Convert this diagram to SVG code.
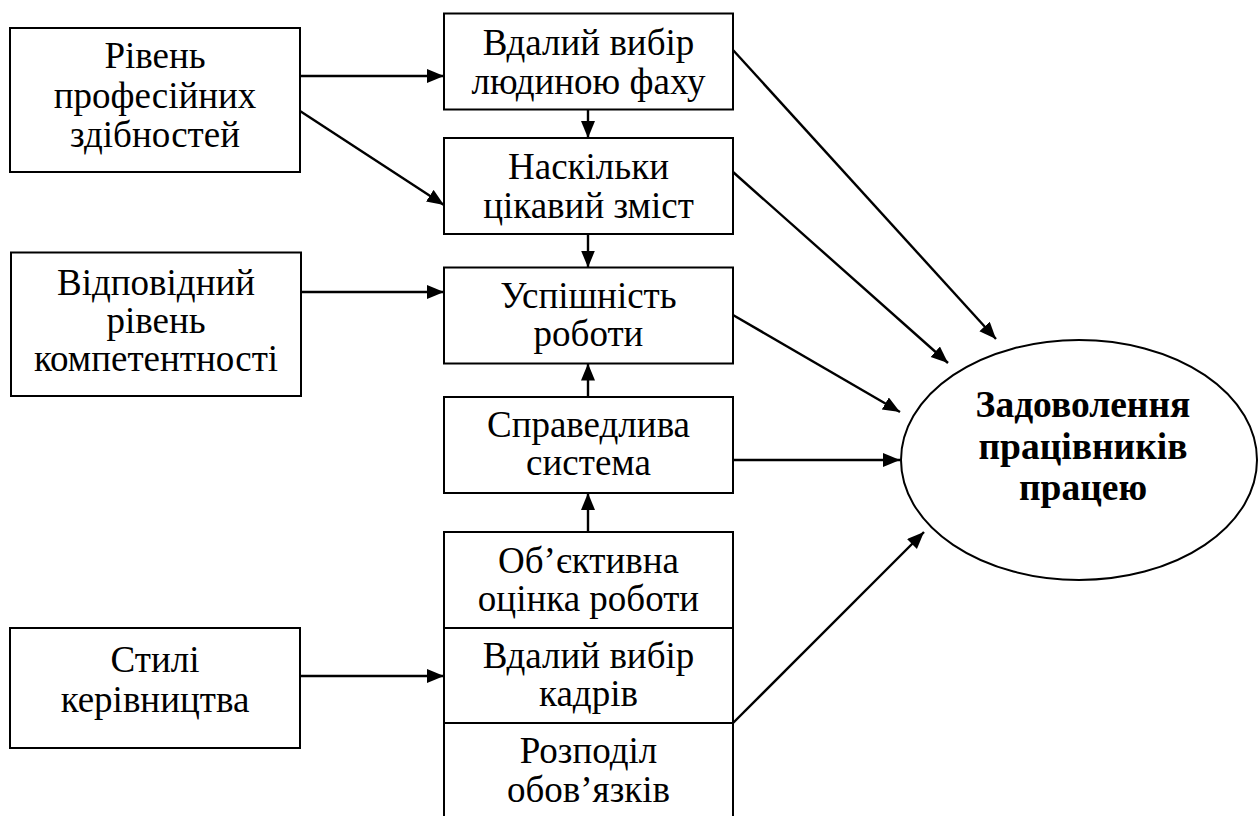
<svg xmlns="http://www.w3.org/2000/svg" width="1258" height="816" viewBox="0 0 1258 816">
<style>
.box{fill:#fff;stroke:#000;stroke-width:2}
.t{font-family:"Liberation Serif","Times New Roman",serif;font-size:37px;text-anchor:middle;fill:#000}
.b{font-weight:bold;font-size:37.5px}
.c{stroke:#000;stroke-width:2.4;fill:none;marker-end:url(#ah)}
</style>
<defs>
<marker id="ah" markerUnits="userSpaceOnUse" markerWidth="18" markerHeight="15" refX="17" refY="7" orient="auto">
<path d="M0,0 L17,7 L0,14 Z" fill="#000"/>
</marker>
</defs>
<rect width="1258" height="816" fill="#fff"/>
<g id="connectors">
<line class="c" x1="300" y1="76" x2="444" y2="76"/>
<line class="c" x1="300" y1="111" x2="444" y2="205"/>
<line class="c" x1="588" y1="109.5" x2="588" y2="138"/>
<line class="c" x1="588" y1="234" x2="588" y2="267.5"/>
<line class="c" x1="300" y1="292" x2="444" y2="292"/>
<line class="c" x1="588" y1="397" x2="588" y2="363.5"/>
<line class="c" x1="588" y1="532" x2="588" y2="493"/>
<line class="c" x1="300" y1="676" x2="444" y2="676"/>
<line class="c" x1="733" y1="50" x2="996" y2="339"/>
<line class="c" x1="733" y1="172" x2="948" y2="363"/>
<line class="c" x1="733" y1="315" x2="900" y2="412"/>
<line class="c" x1="733" y1="460" x2="900" y2="460"/>
<line class="c" x1="733" y1="723" x2="924" y2="532"/>
</g>
<g id="n-riven">
<rect class="box" x="10" y="28" width="290" height="144"/>
<text class="t" x="155" y="68">Рівень</text>
<text class="t" x="155" y="107.5">професійних</text>
<text class="t" x="155" y="147">здібностей</text>
</g>
<g id="n-vidpovidnyi">
<rect class="box" x="11" y="252.5" width="290" height="143.5"/>
<text class="t" x="156" y="294.5">Відповідний</text>
<text class="t" x="156" y="333">рівень</text>
<text class="t" x="156" y="371">компетентності</text>
</g>
<g id="n-styli">
<rect class="box" x="10" y="628" width="290" height="120"/>
<text class="t" x="155" y="672">Стилі</text>
<text class="t" x="155" y="712">керівництва</text>
</g>
<g id="n-fakh">
<rect class="box" x="444" y="13.5" width="289" height="96"/>
<text class="t" x="588.5" y="55">Вдалий вибір</text>
<text class="t" x="588.5" y="93.5">людиною фаху</text>
</g>
<g id="n-zmist">
<rect class="box" x="444" y="138" width="289" height="96"/>
<text class="t" x="588.5" y="179">Наскільки</text>
<text class="t" x="588.5" y="217.5">цікавий зміст</text>
</g>
<g id="n-uspishnist">
<rect class="box" x="444" y="267.5" width="289" height="96"/>
<text class="t" x="588.5" y="307.5">Успішність</text>
<text class="t" x="588.5" y="346">роботи</text>
</g>
<g id="n-systema">
<rect class="box" x="444" y="397" width="289" height="96"/>
<text class="t" x="588.5" y="436.5">Справедлива</text>
<text class="t" x="588.5" y="475">система</text>
</g>
<g id="n-stack">
<rect class="box" x="444" y="532" width="289" height="300"/>
<line x1="444" y1="628" x2="733" y2="628" stroke="#000" stroke-width="2"/>
<line x1="444" y1="723" x2="733" y2="723" stroke="#000" stroke-width="2"/>
<text class="t" x="588.5" y="573">Об’єктивна</text>
<text class="t" x="588.5" y="611">оцінка роботи</text>
<text class="t" x="588.5" y="668">Вдалий вибір</text>
<text class="t" x="588.5" y="705.5">кадрів</text>
<text class="t" x="588.5" y="763">Розподіл</text>
<text class="t" x="588.5" y="801.5">обов’язків</text>
</g>
<g id="n-zadovolennia">
<ellipse cx="1079" cy="460" rx="178" ry="120" fill="#fff" stroke="#000" stroke-width="2"/>
<text class="t b" x="1083" y="417">Задоволення</text>
<text class="t b" x="1083" y="459">працівників</text>
<text class="t b" x="1083" y="500">працею</text>
</g>
</svg>
